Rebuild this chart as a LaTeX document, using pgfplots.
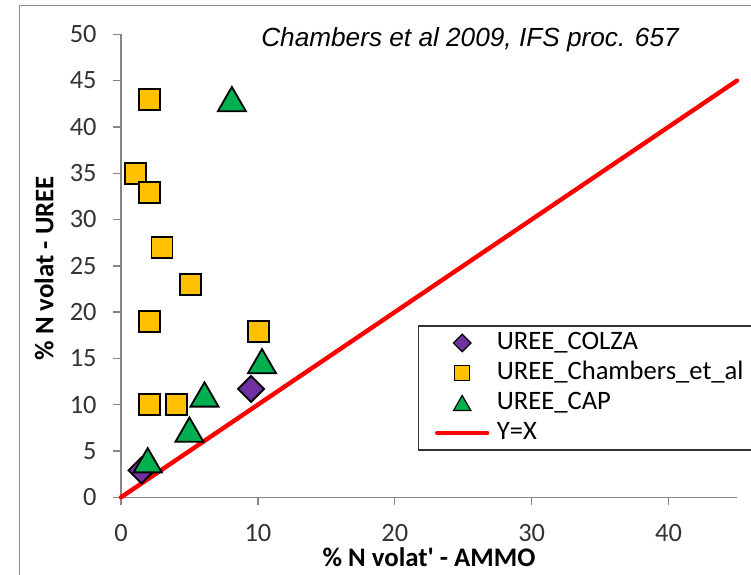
\documentclass[border=0pt]{standalone}
\usepackage{pgfplots}
\pgfplotsset{compat=1.18}
\usepackage{fontspec}
\setmainfont{Carlito}
\newfontfamily\titlefont{Liberation Sans}
\definecolor{upurple}{HTML}{7030A0}
\definecolor{uyellow}{HTML}{FFC000}
\definecolor{ugreen}{HTML}{00B050}
\definecolor{axgray}{HTML}{868686}
\definecolor{framegray}{HTML}{8C8C8C}
\begin{document}
\begin{tikzpicture}
\begin{axis}[
    scale only axis,
    width=308pt, height=231.5pt,
    xmin=0, xmax=45, ymin=0, ymax=50,
    xtick={0,10,20,30,40},
    ytick={0,5,...,50},
    axis lines*=left,
    axis line style={axgray, line width=0.7pt},
    every tick/.style={axgray, line width=0.7pt},
    tick align=outside,
    major tick length=4pt,
    tick label style={font=\fontsize{13.2}{15}\selectfont, text=black!80},
    /pgf/number format/assume math mode=true,
    xticklabel style={anchor=center, yshift=-14pt},
    yticklabel style={anchor=east, inner sep=0pt, xshift=-8pt},
    xlabel={\% N volat\textquotesingle{} - AMMO},
    ylabel={\% N volat - UREE},
    label style={font=\bfseries\fontsize{13.4}{15}\selectfont},
    xlabel style={at={(axis description cs:0.5,-0.1296)}, anchor=center},
    ylabel style={at={(axis description cs:-0.125,0.4946)}, anchor=center},
    clip=false,
    legend style={at={(axis description cs:0.4818,0.3715)}, anchor=north west,
        draw=black!80, line width=0.7pt,
        font=\fontsize{13.3}{15}\selectfont,
        inner xsep=8pt, inner ysep=1pt,
        column sep=3.5pt, row sep=0pt,
        nodes={inner sep=0pt, text height=11pt, text depth=4pt}},
    legend cell align=left,
]
% Y=X line first so markers sit on top
\addplot[red, line width=2.2pt, line cap=round, forget plot] coordinates {(0,0) (45,45)};

\addplot[only marks, mark=square*, mark size=4.6pt,
    mark options={rotate=45, fill=upurple, draw=black, line width=0.9pt},
    legend image code/.code={\path (0pt,0pt) (27pt,0pt);
      \path plot[mark=square*, mark size=3.1pt, mark options={rotate=45, fill=upurple, draw=black, line width=0.6pt}] coordinates {(13.5pt,0pt)};}]
    coordinates {(1.5,2.9) (9.5,11.7)};
\addlegendentry{UREE\_COLZA}

\addplot[only marks, mark=square*, mark size=5.25pt,
    mark options={fill=uyellow, draw=black, line width=0.9pt},
    legend image code/.code={\path (0pt,0pt) (27pt,0pt);
      \path plot[mark=square*, mark size=3.75pt, mark options={fill=uyellow, draw=black, line width=0.6pt}] coordinates {(13.5pt,0pt)};}]
    coordinates {(2.1,43) (1.05,35) (2.1,32.9) (3,27) (5.05,23) (2.1,19) (10.05,17.9) (2.1,10) (4.05,10)};
\addlegendentry{UREE\_Chambers\_et\_al}

\addplot[only marks, mark=triangle*, mark size=8.1pt,
    mark options={fill=ugreen, draw=black, line width=0.9pt, yshift=-2pt},
    legend image code/.code={\path (0pt,0pt) (27pt,0pt);
      \path plot[mark=triangle*, mark size=5pt, mark options={fill=ugreen, draw=black, line width=0.6pt, yshift=-1.25pt}] coordinates {(13.5pt,0pt)};}]
    coordinates {(8.1,43) (10.3,14.7) (6.1,11.1) (5,7.3) (1.95,4)};
\addlegendentry{UREE\_CAP}

\addlegendimage{legend image code/.code={\draw[red, line width=2.2pt, line cap=round] (1pt,0pt) -- (26pt,0pt);}}
\addlegendentry{Y=X}

\node[font=\titlefont\itshape\fontsize{13.1}{15}\selectfont, anchor=center]
    at (axis description cs:0.5666,0.9877) {Chambers et al 2009, IFS proc. 657};
\end{axis}
\draw[framegray, line width=0.8pt] (-50.75pt,-40pt) -- (-50.75pt,245.9pt) -- (320pt,245.9pt);
\pgfresetboundingbox
\path[use as bounding box] (-60.5pt,-38.35pt) rectangle (315pt,248.65pt);
\end{tikzpicture}
\end{document}
